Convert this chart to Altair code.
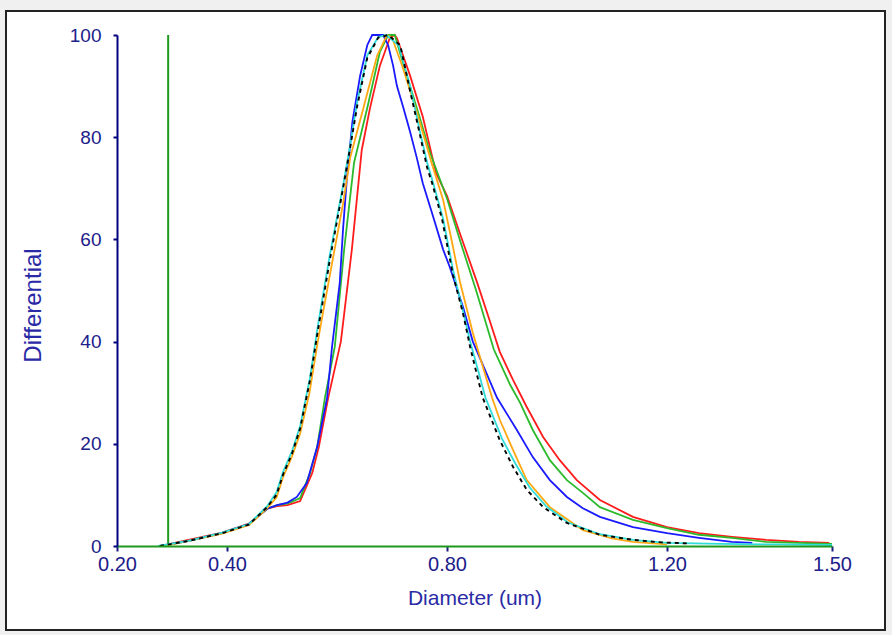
import altair as alt
import pandas as pd

# ---- data ----
black_x = [0.278, 0.33, 0.391, 0.44, 0.473, 0.49, 0.502, 0.518, 0.533, 0.551, 0.565, 0.587, 0.611, 0.624, 0.636, 0.655, 0.675, 0.693, 0.715, 0.733, 0.751, 0.764, 0.773, 0.791, 0.811, 0.829, 0.842, 0.851, 0.865, 0.896, 0.92, 0.945, 0.975, 1.018, 1.078, 1.138, 1.19, 1.242]
black_y = [0, 1, 2.5, 4.2, 7.6, 10, 14, 18, 23, 32.5, 42, 56, 70, 78, 85.7, 95.5, 99.5, 100, 98, 89, 80.4, 74, 71, 64, 53, 45.6, 39, 35, 29, 20.7, 15.5, 11, 7.6, 4.5, 2.2, 1.2, 0.7, 0.5]

cyan_x = [0.275, 0.33, 0.391, 0.44, 0.473, 0.49, 0.502, 0.518, 0.533, 0.551, 0.565, 0.587, 0.611, 0.624, 0.636, 0.655, 0.675, 0.69, 0.712, 0.733, 0.751, 0.764, 0.775, 0.793, 0.811, 0.829, 0.842, 0.855, 0.87, 0.9, 0.925, 0.95, 0.98, 1.02, 1.078, 1.138, 1.2, 1.3, 1.4, 1.5]
cyan_y = [0, 1, 2.6, 4.3, 7.8, 10.5, 14.5, 18.5, 23.5, 33, 43, 57, 70.5, 78.5, 86.5, 96, 99.6, 100, 98, 90, 81, 75, 71, 64, 54, 46, 40, 35, 29, 21, 16, 11.5, 7.8, 4.6, 2.3, 1.2, 0.6, 0.4, 0.3, 0.2]

orange_x = [0.285, 0.33, 0.391, 0.44, 0.473, 0.49, 0.502, 0.518, 0.533, 0.55, 0.565, 0.587, 0.611, 0.624, 0.648, 0.673, 0.691, 0.70, 0.72, 0.745, 0.773, 0.793, 0.81, 0.824, 0.847, 0.882, 0.896, 0.92, 0.945, 0.987, 1.047, 1.1, 1.138, 1.2]
orange_y = [0, 1, 2.4, 4.1, 7.4, 9.5, 13.5, 17.5, 22, 30, 40, 53, 67, 76, 85.7, 96, 100, 99.5, 93.5, 85, 74.6, 67.7, 59, 51.5, 41.7, 29, 24.7, 18.8, 12.9, 7.6, 3.1, 1.5, 0.8, 0.3]

blue_x = [0.28, 0.33, 0.391, 0.44, 0.473, 0.491, 0.51, 0.527, 0.545, 0.564, 0.582, 0.591, 0.605, 0.611, 0.618, 0.628, 0.642, 0.655, 0.664, 0.684, 0.693, 0.702, 0.709, 0.72, 0.733, 0.745, 0.756, 0.775, 0.793, 0.805, 0.829, 0.847, 0.855, 0.891, 0.927, 0.956, 0.987, 1.018, 1.047, 1.078, 1.138, 1.2, 1.258, 1.318, 1.355]
blue_y = [0, 1, 2.5, 4.3, 7.3, 8, 8.5, 9.6, 12.3, 19.4, 29, 39, 51.5, 62, 72, 83, 92, 98, 100, 100, 98, 94, 90, 86, 81, 76, 71, 64.4, 58, 54.6, 46.8, 40, 38, 29, 22.7, 17.4, 12.9, 9.6, 7.4, 5.7, 3.7, 2.5, 1.6, 0.8, 0.6]

green_x = [0.28, 0.33, 0.391, 0.44, 0.473, 0.491, 0.51, 0.533, 0.551, 0.564, 0.578, 0.596, 0.613, 0.631, 0.655, 0.678, 0.693, 0.705, 0.727, 0.75, 0.769, 0.80, 0.826, 0.853, 0.885, 0.915, 0.933, 0.956, 0.987, 1.018, 1.047, 1.078, 1.138, 1.2, 1.258, 1.318, 1.38, 1.44, 1.5]
green_y = [0, 1, 2.5, 4.3, 7.3, 8, 8.3, 9.4, 14.3, 19.4, 29, 39, 58, 75, 85.7, 96.7, 100, 100, 92, 84, 77, 68, 59, 50, 38.5, 31.5, 28, 22.7, 16.8, 12.9, 10.4, 7.6, 5.1, 3.5, 2.2, 1.6, 0.8, 0.6, 0.4]

red_x = [0.28, 0.33, 0.391, 0.44, 0.473, 0.491, 0.51, 0.533, 0.555, 0.567, 0.584, 0.607, 0.627, 0.645, 0.66, 0.678, 0.696, 0.705, 0.709, 0.733, 0.756, 0.78, 0.80, 0.824, 0.855, 0.878, 0.896, 0.92, 0.945, 0.975, 1.005, 1.036, 1.078, 1.138, 1.2, 1.258, 1.318, 1.38, 1.44, 1.495]
red_y = [0, 1.2, 2.6, 4.4, 7.3, 7.8, 8, 8.8, 14.3, 19.4, 29, 40, 58, 77.5, 85.7, 94, 99.4, 100, 99.4, 92, 84, 73, 68.5, 61, 51.5, 44, 38, 32.5, 27.2, 21.3, 16.8, 12.9, 9, 5.7, 3.7, 2.5, 1.8, 1.2, 0.8, 0.6]

marker_x = [0.293]          # vertical green marker
x_ticks = [0.2, 0.4, 0.8, 1.2, 1.5]
y_ticks = [0, 20, 40, 60, 80, 100]

series = [
    ("red", red_x, red_y, "#ff1c1c"),
    ("green", green_x, green_y, "#2cba2c"),
    ("blue", blue_x, blue_y, "#1a1aff"),
    ("orange", orange_x, orange_y, "#ffa812"),
    ("cyan", cyan_x, cyan_y, "#30dcd8"),
]

rows = []
for name, xs, ys, _ in series:
    for i, (a, b) in enumerate(zip(xs, ys)):
        rows.append({"s": name, "x": a, "y": b, "i": i})
df = pd.DataFrame(rows)
df_black = pd.DataFrame({"x": black_x, "y": black_y, "i": list(range(len(black_x)))})
df_marker = pd.DataFrame({"x": marker_x, "y": [0], "y2": [100]})

LABEL = "#20208a"
TITLE = "#2a2aa6"
FONT = "Liberation Sans"

xscale = alt.Scale(domain=[0.2, 1.5], nice=False, zero=False)
yscale = alt.Scale(domain=[0, 100], nice=False)

xaxis = alt.Axis(values=x_ticks, format=".2f", title="Diameter (um)", grid=False,
                 domainColor="#1e9a1e", domainWidth=2, tickColor="#1a1a80", tickWidth=2,
                 tickSize=5, labelFontSize=20, labelColor=LABEL, labelFont=FONT,
                 labelPadding=3, labelFlush=False, titleFont=FONT, titleFontSize=21,
                 titleFontWeight="normal", titleColor=TITLE, titlePadding=13, zindex=1)
yaxis = alt.Axis(values=y_ticks, title="Differential", grid=False,
                 domainColor="#00007f", domainWidth=2, tickColor="#00007f", tickWidth=2,
                 tickSize=4, labelFontSize=19, labelColor=LABEL, labelFont=FONT,
                 labelPadding=12, titleFont=FONT, titleFontSize=24, titleFontWeight="normal",
                 titleColor=TITLE, titleX=-84, titleY=270, titleAnchor="middle",
                 titleBaseline="middle", zindex=1)

frame = alt.Chart(pd.DataFrame({"a": [0]})).mark_rect(
    fill="white", stroke="#222222", strokeWidth=2
).encode(x=alt.value(-111), x2=alt.value(768), y=alt.value(-24), y2=alt.value(595))

marker = alt.Chart(df_marker).mark_rule(color="#1e9a1e", strokeWidth=2).encode(
    x=alt.X("x:Q", scale=xscale, axis=xaxis),
    y=alt.Y("y:Q", scale=yscale, axis=yaxis),
    y2="y2:Q",
)

lines = alt.Chart(df).mark_line(strokeWidth=1.8).encode(
    x=alt.X("x:Q", scale=xscale, axis=xaxis),
    y=alt.Y("y:Q", scale=yscale, axis=yaxis),
    color=alt.Color("s:N", scale=alt.Scale(domain=[s[0] for s in series],
                                           range=[s[3] for s in series]), legend=None),
    order="i:Q",
)

black = alt.Chart(df_black).mark_line(strokeWidth=1.9, color="black", strokeDash=[4, 4]).encode(
    x=alt.X("x:Q", scale=xscale, axis=xaxis),
    y=alt.Y("y:Q", scale=yscale, axis=yaxis),
    order="i:Q",
)

chart = alt.layer(frame, marker, lines, black).properties(
    width=715, height=511,
    autosize=alt.AutoSizeParams(type="none"),
    padding={"left": 117, "top": 35, "right": 60, "bottom": 89},
    background="#f0f0f0",
).configure_view(strokeWidth=0)

chart.save("out.html", embed_options={"renderer": "svg", "actions": False})
